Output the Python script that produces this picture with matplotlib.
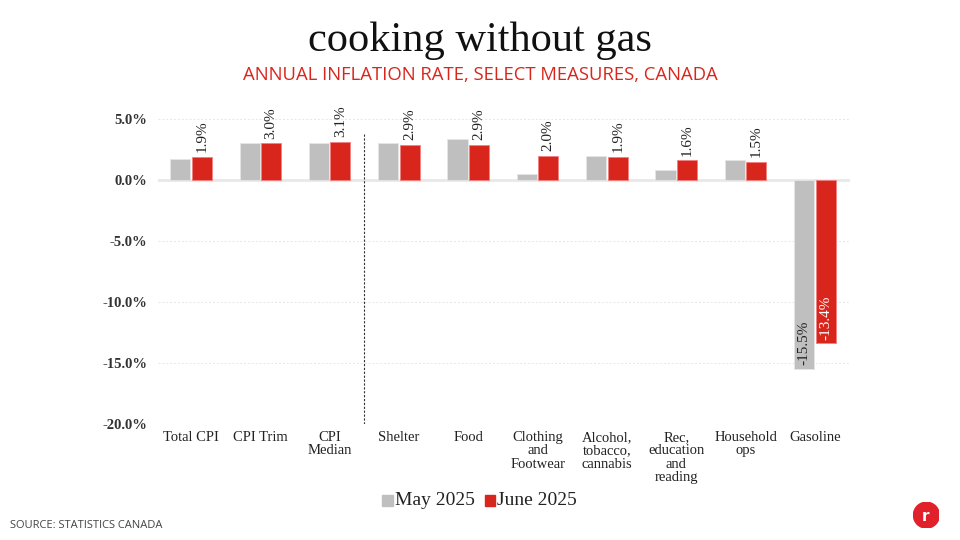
import matplotlib.pyplot as plt
from matplotlib.patches import Circle
import numpy as np

categories = ["Total CPI", "CPI Trim", "CPI\nMedian", "Shelter", "Food",
              "Clothing\nand\nFootwear", "Alcohol,\ntobacco,\ncannabis",
              "Rec,\neducation\nand\nreading", "Household\nops", "Gasoline"]
may_2025 = [1.7, 3.0, 3.0, 3.0, 3.4, 0.5, 2.0, 0.8, 1.6, -15.5]
june_2025 = [1.9, 3.0, 3.1, 2.9, 2.9, 2.0, 1.9, 1.6, 1.5, -13.4]
yticks = [5, 0, -5, -10, -15, -20]

GRAY = "#bfbfbf"
RED = "#d9261c"
SERIF = "Liberation Serif"

fig = plt.figure(figsize=(9.6, 5.4), dpi=100)
ax = fig.add_axes([0.165, 0.2148, 0.72, 0.5874])

x = np.arange(len(categories))
w = 0.29
ax.bar(x - 0.155, may_2025, w, color=GRAY, edgecolor="#e6e6e6", linewidth=0.6, zorder=3)
ax.bar(x + 0.155, june_2025, w, color=RED, edgecolor="#f08080", linewidth=0.6, zorder=3)

# value labels
for i, v in enumerate(june_2025):
    if v >= 0:
        ax.text(x[i] + 0.155, v + 0.4, f"{v:.1f}%", rotation=90, ha="center", va="bottom",
                fontsize=11, family=SERIF, color="#222222")
    else:
        ax.text(x[i] + 0.155, v + 0.3, f"{v:.1f}%", rotation=90, ha="center", va="bottom",
                fontsize=11, family=SERIF, color="white", zorder=4)
        m = may_2025[i]
        ax.text(x[i] - 0.155, m + 0.3, f"{m:.1f}%", rotation=90, ha="center", va="bottom",
                fontsize=11, family=SERIF, color="#222222", zorder=4)

# grid
for t in yticks:
    if t == 0:
        ax.axhline(0, color="#e8e8e8", linewidth=2, zorder=1)
    else:
        ax.axhline(t, color="#e6e6e6", linewidth=0.7, linestyle=(0, (2, 2)), zorder=1)

# divider between core measures and components
ax.plot([2.5, 2.5], [-20, 3.85], color="#333333", linewidth=0.8, linestyle=(0, (2, 1.5)), zorder=2)

ax.set_xlim(-0.47, 9.5)
ax.set_ylim(-20, 6)
ax.set_yticks(yticks)
ax.set_yticklabels([f"{t:.1f}%" for t in yticks], family=SERIF, fontsize=10.5,
                   fontweight="bold", color="#333333")
ax.set_xticks(x)
ax.set_xticklabels(categories, family=SERIF, fontsize=10.5, color="#222222", linespacing=1.05, va="top")
ax.tick_params(length=0, pad=8)
ax.tick_params(axis="x", pad=5)
for s in ax.spines.values():
    s.set_visible(False)

fig.text(0.5, 0.925, "cooking without gas", ha="center", va="center",
         family=SERIF, fontsize=30.5, color="#111111")
fig.text(0.5, 0.862, "ANNUAL INFLATION RATE, SELECT MEASURES, CANADA", ha="center", va="center",
         family="Open Sans", fontsize=13.3, color=RED)

# legend
fig.patches.append(plt.Rectangle((0.398, 0.063), 0.011, 0.02, transform=fig.transFigure,
                                 color=GRAY, figure=fig))
fig.text(0.411, 0.073, "May 2025", ha="left", va="center", family=SERIF, fontsize=14, color="#222222")
fig.patches.append(plt.Rectangle((0.505, 0.063), 0.011, 0.02, transform=fig.transFigure,
                                 color=RED, figure=fig))
fig.text(0.518, 0.073, "June 2025", ha="left", va="center", family=SERIF, fontsize=14, color="#222222")

fig.text(0.01, 0.027, "SOURCE: STATISTICS CANADA", ha="left", va="center",
         family="Open Sans", fontsize=8, color="#444444")

# logo
logo = fig.add_axes([0.965 - 0.0135, 0.046 - 0.024, 0.027, 0.048])
logo.set_xlim(-1, 1)
logo.set_ylim(-1, 1)
logo.set_aspect("equal")
logo.axis("off")
logo.add_patch(Circle((0, 0), 1, color="#e0202a"))
logo.text(-0.05, -0.1, "r", ha="center", va="center", color="white", fontsize=11,
          fontweight="bold", family="DejaVu Sans")

fig.savefig("out.png", dpi=100)
